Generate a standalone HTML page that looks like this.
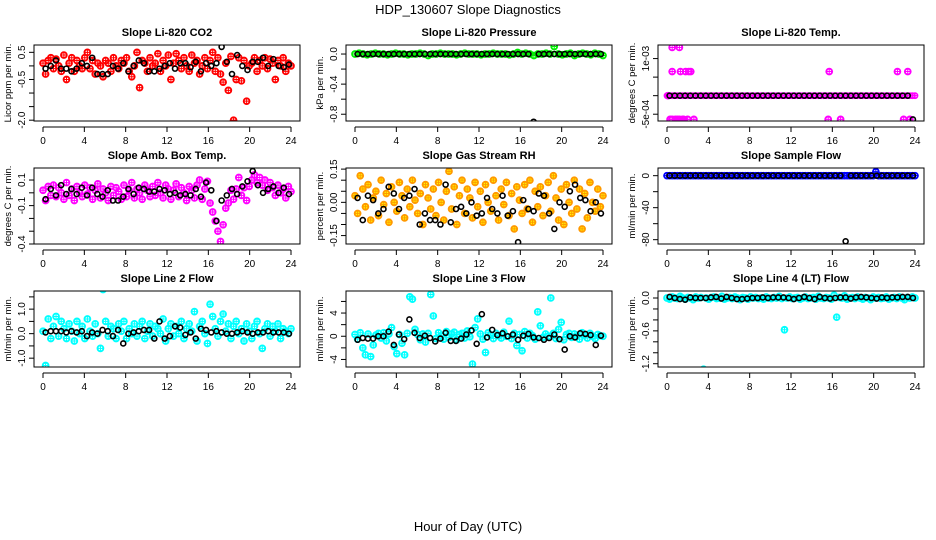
<!DOCTYPE html>
<html><head><meta charset="utf-8"><style>
html,body{margin:0;padding:0;background:#fff;}
svg{display:block;font-family:"Liberation Sans",Arial,sans-serif;}
</style></head><body>
<svg id="chart" width="936" height="540" viewBox="0 0 936 540">
<text x="468" y="14" text-anchor="middle" font-size="13">HDP_130607  Slope Diagnostics</text>
<text x="468" y="531" text-anchor="middle" font-size="13">Hour of Day (UTC)</text>
</svg>
<script>
// ---- data ----
const xTicks = [0,4,8,12,16,20,24];
const co2Red = [0.1,-0.3,0.2,0.3,-0.1,0.25,0.0,-0.2,0.4,-0.5,0.1,0.3,-0.2,0.2,0.0,-0.1,0.3,0.5,-0.1,0.2,-0.3,0.1,0.0,-0.4,0.2,0.1,-0.2,0.3,0.0,-0.1,0.2,0.1,0.3,-0.2,-0.4,0.0,0.5,-0.8,0.2,0.1,-0.2,0.3,0.0,0.1,0.45,-0.2,0.2,0.0,0.4,-0.5,0.1,0.45,0.2,-0.1,0.3,0.0,-0.2,0.4,0.1,0.2,-0.3,0.0,0.3,-0.1,0.2,0.5,-0.2,0.3,-0.3,-0.6,0.1,-0.9,0.35,-2.0,-0.5,0.3,-0.55,0.2,-1.3,0.0,0.1,0.3,-0.2,0.2,0.0,0.3,-0.1,0.25,0.1,-0.5,0.2,0.0,0.3,-0.2,0.1,0.0];
const co2Blk = [-0.1,0.0,0.2,-0.1,-0.1,-0.2,-0.1,0.1,0.0,0.3,-0.3,-0.3,-0.3,0.0,-0.1,0.1,-0.2,0.0,0.2,0.1,-0.2,-0.2,-0.1,0.0,0.1,-0.1,0.1,0.1,-0.05,0.15,-0.2,0.1,0.0,0.1,0.7,0.15,-0.3,0.4,0.0,-0.15,0.15,0.15,0.3,0.0,0.25,0.0,-0.05,0.05];
const presGrn = [0,0.01,0,-0.01,0,0.01,0,0,-0.01,0,0.01,0,0,-0.01,0,0,0.01,0,-0.02,0,0,0.01,0,0,0,-0.01,0,0.01,0,0,0,-0.01,0,0,0.01,0,0,0,-0.01,0,0.02,0,0.01,0,-0.02,0,0,0.01,0,0.1,0,-0.01,0,0.01,-0.02,0,0.01,0,-0.01,0.01,0,-0.02];
const presBlk = [0,0,0,0,0,0,0,0,0,0,0,0,0,0,0,0,0,0,0,0,0,0,0,0,0,0,0,0,0,0,0,0,0,0,-0.9,0,0,0,0,0,0,0,0,0,0,0,0,0];
const tempPinkHrs = [0.1,0.3,0.5,0.5,0.5,0.8,1.0,1.2,1.3,1.5,1.8,2.0,2.3,2.6,1.2,1.6,2.1,15.6,15.7,16.8,22.3,22.9,23.3,23.5];
const tempPink = [0,-0.00064,0.0013,0.00065,-0.00064,-0.00064,-0.00064,0.0013,0.00065,-0.00064,0.00065,-0.00064,0.00065,-0.00064,-0.00064,-0.00064,0.00065,-0.00064,0.00065,-0.00064,0.00065,-0.00064,0.00065,-0.00064];
const tempBlk = [0,0,0,0,0,0,0,0,0,0,0,0,0,0,0,0,0,0,0,0,0,0,0,0,0,0,0,0,0,0,0,0,0,0,0,0,0,0,0,0,0,0,0,0,0,0,0,-0.00064];
const ambPink = [0.02,-0.06,0.05,-0.02,0.06,-0.03,0.04,0.0,-0.05,0.08,-0.02,0.03,-0.06,0.05,0.0,-0.03,0.06,-0.01,0.04,-0.05,0.02,0.07,-0.04,0.03,0.0,-0.06,0.05,-0.02,0.04,0.01,-0.05,0.06,-0.03,0.02,0.08,-0.04,0.03,0.0,-0.05,0.06,0.02,-0.03,0.05,-0.02,0.08,0.0,-0.04,0.06,0.03,-0.05,0.02,0.07,-0.03,0.04,0.0,-0.06,0.05,0.02,-0.04,0.06,0.1,-0.05,0.03,0.09,-0.08,-0.15,-0.22,-0.3,-0.38,-0.25,-0.12,-0.08,0.02,-0.05,0.03,0.12,-0.02,0.04,-0.06,0.05,0.1,0.14,0.08,0.12,0.06,0.1,0.02,0.08,0.04,-0.02,0.06,0.0,0.03,-0.04,0.05,0.01];
const ambBlk = [-0.05,0.03,-0.02,0.06,-0.01,0.03,-0.01,0.04,-0.02,0.04,-0.01,-0.03,0.02,-0.06,-0.06,-0.03,0.03,-0.01,0.04,0.03,0.01,0.01,0.03,0.02,-0.01,0.0,-0.02,-0.01,-0.02,0.03,-0.03,0.08,0.02,-0.22,-0.06,-0.02,0.03,-0.01,0.05,0.09,0.17,0.06,0.0,0.03,0.05,0.0,0.04,-0.01];
const rhOrange = [0.03,-0.05,0.12,0.06,-0.02,0.08,-0.08,0.02,0.05,-0.06,0.1,-0.01,0.04,-0.09,0.07,0.0,-0.04,0.09,0.03,-0.07,0.06,-0.02,0.1,0.01,-0.05,0.04,-0.1,0.08,0.02,-0.03,0.06,-0.06,0.09,0.0,-0.08,0.05,0.14,-0.03,0.07,-0.1,0.03,0.1,-0.05,0.06,0.02,-0.07,0.09,-0.02,0.05,-0.09,0.08,0.0,-0.04,0.1,0.03,-0.08,0.06,-0.01,0.09,-0.06,0.04,-0.12,0.07,0.01,-0.05,0.08,-0.03,0.1,-0.09,0.05,-0.02,0.07,-0.06,0.03,0.09,-0.04,0.12,0.02,-0.08,0.06,-0.1,0.08,0.0,-0.05,0.1,-0.03,0.06,-0.12,0.04,-0.07,0.09,0.0,-0.04,0.06,-0.02,0.03];
const rhBlk = [0.02,-0.08,0.03,0.01,-0.05,-0.03,0.07,0.04,-0.03,0.02,0.03,0.06,-0.1,-0.05,-0.08,-0.08,-0.1,0.08,-0.09,-0.03,-0.02,-0.05,0.0,-0.06,-0.05,0.02,-0.03,-0.05,0.03,-0.06,-0.04,-0.18,0.01,-0.03,-0.04,0.04,0.03,-0.05,-0.12,0.0,-0.02,0.05,0.08,0.02,0.01,-0.04,0.0,-0.05];
const flowBlue = [0,0,0,0,0,0,0,0,0,0,0,0,0,0,0,0,0,0,0,0,0,0,0,0,0,0,0,0,0,0,0,0,0,0,0,0,0,0,0,0,0,0,0,0,0,0,0,0,0,0,0,0,0,0,0,0,0,0,0,0,0,0,0,0,0,0,0,0,0,0,0,0,0,0,0,0,0,0,0,0,5,0,0,0,0,0,0,0,0,0,0,0,0,0,0,0];
const flowBlk = [0,0,0,0,0,0,0,0,0,0,0,0,0,0,0,0,0,0,0,0,0,0,0,0,0,0,0,0,0,0,0,0,0,0,-82,0,0,0,0,0,0,0,0,0,0,0,0,0];
const l2Cyan = [0.1,-1.3,0.6,-0.2,0.3,0.7,-0.1,0.5,0.2,-0.2,0.4,0.1,-0.3,0.5,0.0,0.3,-0.2,0.6,0.1,-0.1,0.4,0.0,-0.6,1.8,0.5,-0.1,0.3,0.2,-0.2,0.4,0.1,0.5,-0.2,0.2,0.0,0.4,-0.1,0.3,0.5,-0.2,0.1,0.4,-0.1,0.3,0.2,0.0,0.6,-0.3,0.2,0.4,-0.1,0.3,0.0,0.5,-0.2,0.2,0.4,0.1,0.9,-0.3,0.3,0.5,0.0,-0.4,1.2,0.7,0.2,-0.1,0.5,0.8,0.1,0.4,-0.2,0.3,0.5,0.0,0.2,-0.3,0.4,0.1,-0.2,0.3,0.5,0.0,-0.6,0.2,0.4,-0.1,0.3,0.1,0.4,-0.2,0.2,0.1,0.0,0.2];
const l2Blk = [0.05,0.1,0.1,0.1,0.05,0.1,0.05,0.1,-0.1,0.05,0.0,0.15,0.1,-0.1,0.15,-0.4,0.0,0.05,0.1,0.15,0.15,-0.2,0.5,-0.2,-0.1,0.3,0.25,-0.05,0.05,-0.2,0.2,0.15,0.05,0.1,0.05,0.0,0.0,0.05,0.1,0.05,0.0,0.05,0.05,0.1,0.05,0.05,0.05,0.0];
const l3Cyan = [0.3,-0.5,0.6,-2.0,-3.2,0.4,-3.5,-1.5,0.2,0.5,-0.3,0.6,-0.8,0.4,1.5,-1.8,-3.0,0.3,-1.2,-3.2,0.5,6.8,6.4,1.2,0.3,-0.6,0.4,-1.0,0.5,7.2,3.5,-0.4,0.6,0.1,-0.5,0.8,-0.2,0.4,0.7,-0.6,0.3,0.5,-0.3,0.9,-0.1,-4.8,1.5,3.0,0.4,-0.5,-2.8,0.6,0.2,-0.4,0.5,0.1,-0.3,0.7,0.0,2.6,-0.4,0.5,-1.6,0.3,-2.5,0.8,-0.3,0.5,0.1,-0.5,4.2,1.8,-0.2,0.4,0.0,6.6,0.5,-0.4,1.2,2.4,-0.6,0.3,0.5,-0.2,0.4,0.0,-0.5,0.6,0.2,-0.3,0.5,0.0,-0.4,0.3,0.1,0.0];
const l3Blk = [-0.6,-0.3,-0.4,-0.4,0.0,0.0,0.8,-1.5,0.3,-0.5,2.9,0.6,-0.3,0.1,-0.3,-0.9,-0.4,0.6,-0.8,-0.8,-0.4,0.3,1.0,-1.3,3.8,-0.2,1.1,0.2,0.5,0.0,0.3,-0.6,0.1,0.4,-0.2,-0.3,-0.6,-0.3,0.3,-0.5,-2.3,0.0,-0.2,0.5,0.4,0.2,-1.5,0.1];
const l4Cyan = [0,-0.02,0.02,0,-0.01,0.03,0,-0.02,0.01,0,-0.03,0.02,0,0.01,-1.3,0,-0.02,0.01,0.02,-0.01,0,0.03,-0.02,0,0.01,-0.01,0.02,0,-0.03,0.01,0,-0.02,0.02,0,0.01,-0.01,0,-0.02,0.02,0,-0.01,0.01,0,0.03,-0.01,-0.58,0,0.02,-0.01,0,0.01,-0.02,0,0.02,-0.01,0,0.01,-0.02,0.03,0,-0.01,0.01,0,-0.02,0.05,-0.35,0.01,0,0.04,-0.02,0,0.01,-0.01,0.02,0,-0.02,0.01,0,-0.03,0.02,0,0.01,-0.01,0,0.02,-0.02,0,0.01,-0.01,0.02,0,-0.03,0.01,0,0.02,0];
const l4Blk = [0.02,0,-0.02,-0.03,0.01,0,0,0,0.01,0.02,-0.01,0.02,0,-0.02,-0.02,-0.01,0,0,0.01,0,0.01,0.01,0.01,0,-0.02,0,0.02,0,-0.02,0.02,0,-0.01,0,0.01,0.01,-0.01,0.01,0.02,0.01,0,-0.01,0.01,0,0.01,0.01,0.02,0.02,0];

const panels = [
 {t:"Slope Li-820 CO2", yl:"Licor ppm per min.", col:0,row:0, ymin:-2.03,ymax:0.77, ticks:[0.5,0,-0.5,-1,-1.5,-2], labs:["0.5","","-0.5","","","-2.0"], c:"#ff0000", fill:"none", cd:co2Red, bd:co2Blk},
 {t:"Slope Li-820 Pressure", yl:"kPa per min.", col:1,row:0, ymin:-0.89,ymax:0.12, ticks:[0,-0.2,-0.4,-0.6,-0.8], labs:["0.0","","-0.4","","-0.8"], c:"#00ee00", fill:"none", cd:presGrn, bd:presBlk},
 {t:"Slope Li-820 Temp.", yl:"degrees C per min.", col:2,row:0, ymin:-0.000683,ymax:0.001366, ticks:[0.001,0.0005,0,-0.0005], labs:["1e-03","","","-5e-04"], c:"#ff00ff", fill:"none", cd:tempPink, ch:tempPinkHrs, bd:tempBlk, base:true},
 {t:"Slope Amb. Box Temp.", yl:"degrees C per min.", col:0,row:1, ymin:-0.4,ymax:0.194, ticks:[0.1,0,-0.1,-0.2,-0.3,-0.4], labs:["0.1","","-0.1","","","-0.4"], c:"#ff00ff", fill:"none", cd:ambPink, bd:ambBlk},
 {t:"Slope Gas Stream RH", yl:"percent per min.", col:1,row:1, ymin:-0.188,ymax:0.155, ticks:[0.15,0.1,0.05,0,-0.05,-0.1,-0.15], labs:["0.15","","","0.00","","","-0.15"], c:"#ff9900", fill:"#ffff00", cd:rhOrange, bd:rhBlk},
 {t:"Slope Sample Flow", yl:"ml/min per min.", col:2,row:1, ymin:-85.4,ymax:9.6, ticks:[0,-20,-40,-60,-80], labs:["0","","-40","","-80"], c:"#0000ff", fill:"none", cd:flowBlue, bd:flowBlk},
 {t:"Slope Line 2 Flow", yl:"ml/min per min.", col:0,row:2, ymin:-1.36,ymax:1.74, ticks:[1.5,1,0.5,0,-0.5,-1], labs:["","1.0","","0.0","","-1.0"], c:"#00ffff", fill:"none", cd:l2Cyan, bd:l2Blk},
 {t:"Slope Line 3 Flow", yl:"ml/min per min.", col:1,row:2, ymin:-5.3,ymax:7.8, ticks:[6,4,2,0,-2,-4], labs:["","4","","0","","-4"], c:"#00ffff", fill:"none", cd:l3Cyan, bd:l3Blk},
 {t:"Slope Line 4 (LT) Flow", yl:"ml/min per min.", col:2,row:2, ymin:-1.26,ymax:0.128, ticks:[0,-0.2,-0.4,-0.6,-0.8,-1.0,-1.2], labs:["0.0","","","-0.6","","","-1.2"], c:"#00ffff", fill:"none", cd:l4Cyan, bd:l4Blk}
];
const colX = [34,346,658], rowY = [45,168,291], W = 266, H = 76;
const NS = "http://www.w3.org/2000/svg";
const svg = document.getElementById('chart');
function mk(tag, attrs, parent){ const e=document.createElementNS(NS,tag); for(const k in attrs) e.setAttribute(k,attrs[k]); (parent||svg).appendChild(e); return e; }

panels.forEach((p,pi)=>{
  const L = colX[p.col], T = rowY[p.row];
  const g = mk('g',{});
  
  
  const xs = h => L + 9 + h/24*248;
  const ys = v => T + (p.ymax - v)/(p.ymax - p.ymin)*H;
  const title = mk('text',{x:L+W/2,y:T-9,'text-anchor':'middle','font-size':'11','font-weight':'bold'},g);
  title.textContent = p.t;
  
  
  p.ticks.forEach((tv,i)=>{
    const y = ys(tv);
    mk('line',{x1:L-5,x2:L,y1:y,y2:y,stroke:'#000','stroke-width':1},g);
    if(p.labs[i]){
      const t = mk('text',{x:0,y:0,'text-anchor':'middle','font-size':'10',transform:`translate(${L-9},${y}) rotate(-90)`},g);
      t.textContent = p.labs[i];
      
      
    }
  });
  const yl = mk('text',{x:0,y:0,'text-anchor':'middle','font-size':'9.5',transform:`translate(${L-23},${T+H/2}) rotate(-90)`},g);
  yl.textContent = p.yl;
  
  
  const ay = T + H + 6;
  mk('line',{x1:xs(0),x2:xs(24),y1:ay,y2:ay,stroke:'#000','stroke-width':1},g);
  xTicks.forEach(h=>{
    mk('line',{x1:xs(h),x2:xs(h),y1:ay,y2:ay+5,stroke:'#000','stroke-width':1},g);
    const t = mk('text',{x:xs(h),y:ay+17,'text-anchor':'middle','font-size':'10'},g);
    t.textContent = h;
    
    
  });
  const clip = 'clip'+pi;
  const cp = mk('clipPath',{id:clip},g); mk('rect',{x:L,y:T,width:W,height:H},cp);
  const pg = mk('g',{'clip-path':`url(#${clip})`},g);
  function cmark(cx,cy,stroke,fill,r,sw){
    const c = mk('circle',{cx:cx,cy:cy,r:r,fill:fill,stroke:stroke,'stroke-width':sw},pg);
    
    
    mk('path',{d:`M${cx-r} ${cy}H${cx+r}M${cx} ${cy-r}V${cy+r}`,stroke:stroke,'stroke-width':1},pg);
  }
  if(p.base){
    for(let i=0;i<96;i++) cmark(xs(i*24/95),ys(0),p.c,'none',2.6,1.6);
  }
  p.cd.forEach((v,i)=>{
    const h = p.ch ? p.ch[i] : i*24/(p.cd.length-1);
    cmark(xs(h),ys(v),p.c,p.fill,2.9,1.9);
  });
  p.bd.forEach((v,i)=>{
    const h = 0.25 + i*23.55/(p.bd.length-1);
    const c = mk('circle',{cx:xs(h),cy:ys(v),r:2.5,fill:'none',stroke:'#000','stroke-width':1.6},pg);
    
    
  });
  const box = mk('rect',{x:L,y:T,width:W,height:H,fill:'none',stroke:'#000','stroke-width':1},g);
  
  
});
</script>
</body></html>
